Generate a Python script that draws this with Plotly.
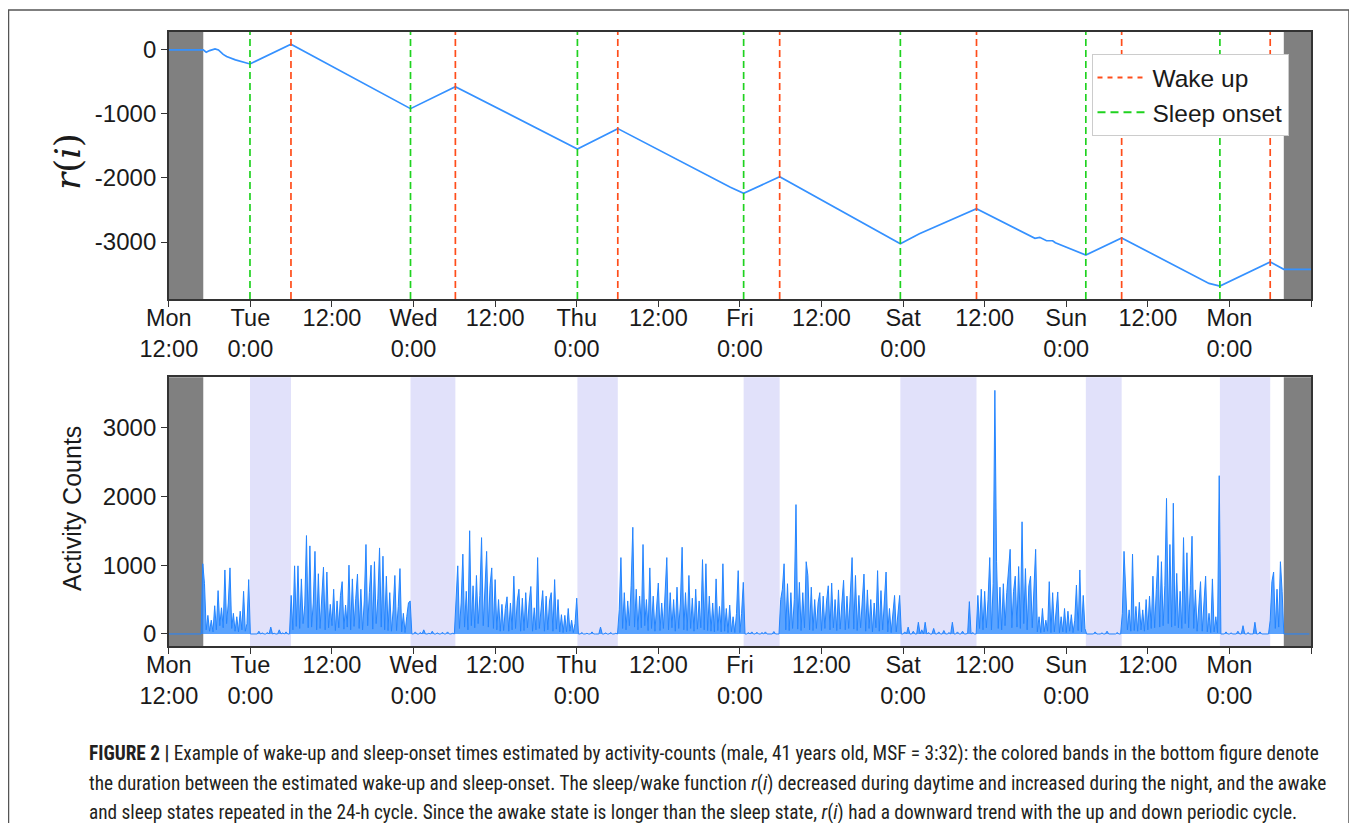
import plotly.graph_objects as go

W, H = 1357, 823
OFF = 8  # page body margin

# ---------------- data ----------------
# hours since Monday 12:00
tick_hours = [0, 12, 24, 36, 48, 60, 72, 84, 96, 108, 120, 132, 144, 156, 168]
tick_labels = ["Mon<br>12:00", "Tue<br>0:00", "12:00", "Wed<br>0:00", "12:00",
               "Thu<br>0:00", "12:00", "Fri<br>0:00", "12:00", "Sat<br>0:00",
               "12:00", "Sun<br>0:00", "12:00", "Mon<br>0:00", ""]

sleep_onset_h = [11.94, 35.55, 60.1, 84.55, 107.6, 134.88, 154.6]
wake_up_h = [17.97, 42.15, 66.04, 89.85, 118.8, 140.15, 162.0]
no_data_h = [(0, 5.07), (164.0, 168.0)]

r_hours = [0, 5.07, 5.5, 6.0, 6.8, 7.3, 8.0, 8.5, 9.8, 10.8, 11.94, 17.97,
           35.55, 42.15, 60.1, 66.04, 82.6, 84.55, 89.85, 107.6, 110.4, 118.8,
           127.4, 128.1, 129.1, 130.0, 130.4, 134.88, 140.15, 153.0, 154.6,
           162.0, 164.0, 168.0]
r_vals = [0, 0, -36, -10, 16, 0, -70, -104, -156, -182, -219, 89,
          -917, -573, -1547, -1229, -2146, -2240, -1980, -3026, -2870, -2479,
          -2943, -2927, -2980, -2980, -3011, -3203, -2937, -3646, -3687,
          -3312, -3427, -3427]

# activity counts, 15-min steps, one list per 24 h starting Mon 12:00
act_day1 = [0, 0, 0, 0, 0, 0, 0, 0,
            0, 0, 0, 0, 0, 0, 0, 0,
            0, 0, 0, 0, 1020, 730, 60, 270,
            40, 200, 30, 410, 60, 630, 120, 380,
            90, 930, 150, 450, 960, 80, 300, 40,
            250, 30, 330, 60, 620, 40, 150, 790,
            0, 0, 10, 0, 0, 40, 0, 15,
            0, 0, 20, 0, 100, 0, 10, 0,
            0, 60, 0, 15, 0, 30, 0, 0,
            560, 60, 990, 110, 990, 80, 800, 150,
            420, 1430, 90, 1280, 100, 450, 1200, 60,
            875, 80, 500, 970, 60, 900, 90, 430]
act_day2 = [120, 650, 50, 480, 90, 560, 760, 70,
            420, 100, 1000, 60, 800, 110, 520, 870,
            80, 650, 60, 480, 1300, 120, 600, 1000,
            70, 1050, 150, 520, 1250, 100, 1130, 60,
            840, 50, 600, 40, 350, 850, 50, 400,
            950, 30, 300, 20, 250, 450, 480, 0,
            0, 30, 0, 0, 20, 0, 60, 0,
            0, 10, 0, 40, 0, 0, 15, 0,
            0, 25, 0, 0, 30, 0, 0, 10,
            0, 560, 990, 80, 450, 1160, 100, 620,
            60, 1500, 120, 700, 90, 850, 150, 560,
            1400, 120, 800, 1200, 100, 700, 960, 80]
act_day3 = [790, 60, 500, 40, 430, 50, 370, 540,
            40, 450, 60, 840, 80, 480, 650, 40,
            520, 50, 600, 90, 450, 690, 40, 380,
            60, 1110, 80, 420, 630, 40, 550, 60,
            480, 600, 40, 790, 70, 500, 30, 280,
            20, 270, 30, 370, 40, 200, 20, 150,
            520, 0, 0, 20, 0, 0, 10, 0,
            0, 30, 0, 0, 0, 0, 100, 0,
            0, 15, 0, 0, 20, 0, 0, 10,
            0, 350, 1110, 80, 600, 60, 480, 120,
            700, 1550, 100, 650, 60, 550, 90, 1300,
            120, 500, 50, 960, 80, 550, 40, 480]
act_day4 = [740, 50, 450, 80, 550, 1110, 60, 600,
            90, 500, 40, 680, 80, 450, 1260, 60,
            600, 50, 850, 80, 520, 40, 650, 70,
            480, 90, 1080, 60, 1020, 50, 550, 40,
            450, 30, 800, 50, 400, 30, 1020, 40,
            370, 20, 420, 30, 250, 20, 300, 920,
            20, 300, 750, 0, 0, 20, 0, 30,
            0, 0, 25, 0, 0, 20, 0, 30,
            0, 0, 10, 0, 35, 0, 0, 0,
            500, 650, 1020, 60, 730, 50, 600, 80,
            500, 1880, 70, 750, 50, 600, 90, 1050,
            850, 60, 680, 50, 500, 80, 450, 600]
act_day5 = [50, 550, 80, 480, 700, 60, 740, 90,
            500, 50, 640, 70, 450, 780, 60, 550,
            80, 600, 1110, 70, 850, 50, 560, 90,
            450, 870, 40, 640, 80, 500, 30, 450,
            90, 920, 40, 630, 60, 450, 900, 30,
            370, 20, 300, 560, 30, 250, 560, 0,
            0, 30, 0, 100, 0, 0, 40, 0,
            0, 170, 0, 60, 0, 170, 0, 20,
            0, 0, 80, 0, 0, 30, 0, 0,
            50, 0, 0, 20, 0, 170, 0, 0,
            30, 0, 0, 40, 0, 0, 10, 470,
            0, 20, 0, 0, 560, 80, 650, 60]
act_day6 = [620, 90, 500, 1110, 60, 730, 3540, 1050,
            80, 680, 60, 730, 120, 600, 970, 1230,
            90, 620, 840, 100, 980, 80, 1630, 150,
            950, 60, 700, 840, 90, 650, 1230, 30,
            250, 20, 370, 30, 200, 40, 760, 20,
            600, 30, 300, 610, 20, 250, 30, 370,
            20, 330, 40, 280, 20, 200, 710, 50,
            930, 30, 560, 80, 0, 0, 10, 0,
            0, 30, 0, 0, 0, 15, 0, 0,
            40, 0, 0, 10, 0, 0, 20, 0,
            0, 300, 1200, 510, 60, 350, 40, 1160,
            50, 400, 40, 460, 60, 350, 40, 500]
act_day7 = [60, 550, 80, 840, 90, 650, 1140, 100,
            1050, 120, 700, 1970, 150, 1300, 100, 1900,
            120, 880, 90, 620, 80, 1400, 150, 1180,
            90, 700, 1420, 80, 640, 40, 450, 760,
            40, 400, 840, 30, 300, 20, 800, 30,
            250, 20, 2300, 0, 0, 0, 30, 0,
            0, 15, 0, 0, 0, 40, 0, 0,
            120, 0, 0, 20, 0, 0, 0, 170,
            0, 0, 30, 0, 0, 10, 0, 0,
            200, 760, 900, 80, 650, 100, 1050, 620,
            0, 0, 0, 0, 0, 0, 0, 0,
            0, 0, 0, 0, 0, 0, 0, 0]
act_days = [act_day1, act_day2, act_day3, act_day4, act_day5, act_day6, act_day7]
step_h = 0.25

# ---------------- style ----------------
BLUE_R = "#3591ff"
BLUE_A = "#2384ff"
WAKE_C = "#ff4d1a"
SLEEP_C = "#1fd21f"
GRAY = "#808080"
BAND = "#e1e1fa"
FONT = "Liberation Sans, Arial, sans-serif"
TXT = "#1a1a1a"


def fx(p):
    return (p - OFF) / W


def fy(p):
    return 1 - (p - OFF) / H


act_x, act_y = [], []
for k, day in enumerate(act_days):
    for i, v in enumerate(day):
        act_x.append(24 * k + step_h * i)
        act_y.append(v)

fig = go.Figure()
fig.add_trace(go.Scatter(x=r_hours, y=r_vals, mode="lines",
                         line=dict(color=BLUE_R, width=1.7),
                         xaxis="x", yaxis="y", showlegend=False, hoverinfo="skip"))
fig.add_trace(go.Scatter(x=[None], y=[None], mode="lines", name="Wake up",
                         line=dict(color=WAKE_C, width=2, dash="5px,5px"),
                         xaxis="x", yaxis="y"))
fig.add_trace(go.Scatter(x=[None], y=[None], mode="lines", name="Sleep onset",
                         line=dict(color=SLEEP_C, width=2, dash="8px,5px"),
                         xaxis="x", yaxis="y"))
fig.add_trace(go.Scatter(x=act_x, y=act_y, mode="lines",
                         line=dict(color=BLUE_A, width=1),
                         fill="tozeroy", fillcolor="rgba(35,132,255,0.75)",
                         xaxis="x2", yaxis="y2", showlegend=False, hoverinfo="skip"))

shapes = []
for (a, b) in no_data_h:
    for xr, yr in (("x", "y domain"), ("x2", "y2 domain")):
        shapes.append(dict(type="rect", xref=xr, yref=yr, x0=a, x1=b, y0=0, y1=1,
                           fillcolor=GRAY, line=dict(width=0), layer="below"))
for s, w in zip(sleep_onset_h, wake_up_h):
    shapes.append(dict(type="rect", xref="x2", yref="y2 domain", x0=s, x1=w, y0=0, y1=1,
                       fillcolor=BAND, line=dict(width=0), layer="below"))
for s in sleep_onset_h:
    shapes.append(dict(type="line", xref="x", yref="y domain", x0=s, x1=s, y0=0, y1=1,
                       line=dict(color=SLEEP_C, width=1.7, dash="7px,4px")))
for w in wake_up_h:
    shapes.append(dict(type="line", xref="x", yref="y domain", x0=w, x1=w, y0=0, y1=1,
                       line=dict(color=WAKE_C, width=1.7, dash="7px,4px")))
# outer frame
shapes.append(dict(type="rect", xref="paper", yref="paper", x0=fx(8.5), x1=fx(1349),
                   y0=-0.05, y1=fy(10), line=dict(color="#555555", width=1.5),
                   fillcolor="rgba(0,0,0,0)"))

xdom = [fx(168.8), fx(1311)]
axis_common = dict(showline=True, mirror=True, linecolor="#333333", linewidth=1.5,
                   ticks="outside", ticklen=6, tickcolor="#333333", tickwidth=1.2,
                   showgrid=False, zeroline=False, automargin=False,
                   tickfont=dict(family=FONT, size=24, color=TXT))
xaxis_common = dict(axis_common, ticklabelstandoff=-9,
                    tickfont=dict(family=FONT, size=23.5, color=TXT))

fig.update_layout(
    width=W, height=H,
    margin=dict(l=0, r=0, t=0, b=0, pad=0, autoexpand=False),
    paper_bgcolor="white", plot_bgcolor="white",
    xaxis=dict(domain=xdom, anchor="y", range=[0, 168], tickmode="array",
               tickvals=tick_hours, ticktext=tick_labels, **xaxis_common),
    yaxis=dict(domain=[fy(299), fy(32)], anchor="x", range=[-3890, 280],
               tickmode="array", tickvals=[0, -1000, -2000, -3000],
               ticktext=["0", "-1000", "-2000", "-3000"], **axis_common),
    xaxis2=dict(domain=xdom, anchor="y2", range=[0, 168], tickmode="array",
                tickvals=tick_hours, ticktext=tick_labels, **xaxis_common),
    yaxis2=dict(domain=[fy(646), fy(377.3)], anchor="x2", range=[-175, 3730],
                tickmode="array", tickvals=[0, 1000, 2000, 3000],
                ticktext=["0", "1000", "2000", "3000"], **axis_common),
    shapes=shapes,
    showlegend=True,
    legend=dict(x=fx(1288.5), xanchor="right", y=fy(54), yanchor="top",
                bgcolor="white", bordercolor="#cccccc", borderwidth=1,
                itemwidth=50,
                font=dict(family=FONT, size=24.5, color=TXT), tracegroupgap=0),
)

annotations = [
    dict(text="<i>r</i>(<i>i</i>)", x=fx(68), y=fy(162), xref="paper", yref="paper",
         showarrow=False, textangle=-90, xanchor="center", yanchor="middle",
         font=dict(family="DejaVu Serif, Liberation Serif, serif", size=36, color=TXT)),
    dict(text="Activity Counts", x=fx(72), y=fy(509), xref="paper", yref="paper",
         showarrow=False, textangle=-90, xanchor="center", yanchor="middle",
         font=dict(family=FONT, size=25, color=TXT)),
]
caption_lines = [
    "<b>FIGURE 2 |</b> Example of wake-up and sleep-onset times estimated by activity-counts (male, 41 years old, MSF = 3:32): the colored bands in the bottom figure denote",
    "the duration between the estimated wake-up and sleep-onset. The sleep/wake function <i>r</i>(<i>i</i>) decreased during daytime and increased during the night, and the awake",
    "and sleep states repeated in the 24-h cycle. Since the awake state is longer than the sleep state, <i>r</i>(<i>i</i>) had a downward trend with the up and down periodic cycle.",
]
caption_y = [753, 783, 812]
for line, yy in zip(caption_lines, caption_y):
    annotations.append(dict(text=line, x=fx(87), y=fy(yy), xref="paper", yref="paper",
                            showarrow=False, xanchor="left", yanchor="middle",
                            font=dict(family="Liberation Sans Narrow, Arial Narrow, Roboto Condensed, Roboto, sans-serif",
                                      size=19.3, color="#231f20")))
fig.update_layout(annotations=annotations)

fig.write_html("out.html")
